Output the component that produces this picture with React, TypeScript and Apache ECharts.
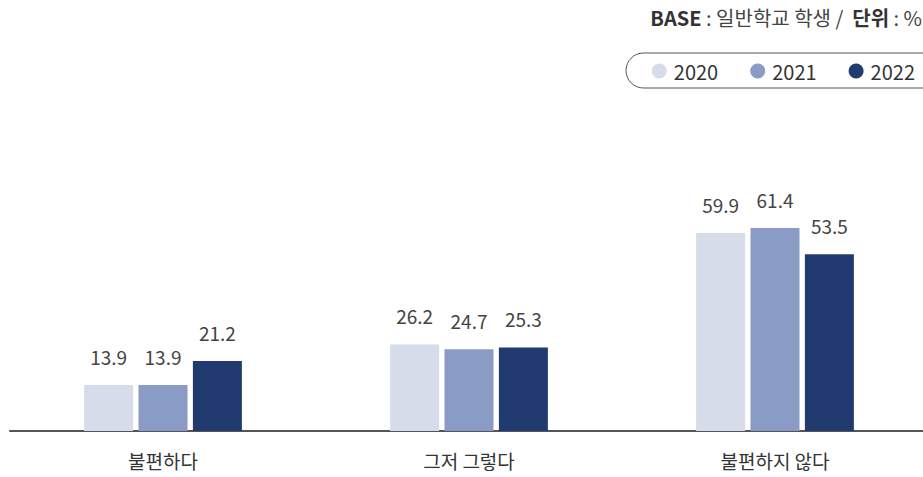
import React, { useEffect, useRef } from "react";
import * as echarts from "echarts";

const categories = ["불편하다", "그저 그렇다", "불편하지 않다"];
const seriesNames = ["2020", "2021", "2022"];
const values2020 = [13.9, 26.2, 59.9];
const values2021 = [13.9, 24.7, 61.4];
const values2022 = [21.2, 25.3, 53.5];
const colors = ["#d6dcea", "#8a9cc5", "#213b71"];

const FONT = "'Noto Sans CJK KR', 'Noto Sans', sans-serif";

export default function App() {
  const ref = useRef<HTMLDivElement>(null);
  useEffect(() => {
    if (!ref.current) return;
    const chart = echarts.init(ref.current, undefined, { renderer: "svg" });
    const data = [values2020, values2021, values2022];
    chart.setOption({
      animation: false,
      textStyle: { fontFamily: FONT },
      grid: {
        left: 10,
        width: 918,
        top: 100.5,
        bottom: 46,
        containLabel: false,
        outerBoundsMode: "none",
      },
      graphic: [
        {
          type: "text",
          right: 1,
          top: 7,
          style: {
            text: "{b|BASE} : 일반학교 학생 /  {b|단위} : %",
            fontFamily: FONT,
            fontSize: 20,
            fill: "#444",
            rich: {
              b: { fontWeight: "bold", fontSize: 20, fontFamily: FONT, fill: "#333" },
            },
          },
        },
        {
          type: "rect",
          shape: { x: 626, y: 53, width: 320, height: 35, r: 17.5 },
          style: { fill: "none", stroke: "#555", lineWidth: 1 },
        },
      ],
      legend: {
        right: 3,
        top: 56,
        icon: "circle",
        itemWidth: 15,
        itemHeight: 15,
        itemGap: 32,
        textStyle: { fontSize: 20, color: "#333", fontFamily: FONT, padding: [0, 0, 0, 2] },
        data: seriesNames,
      },
      xAxis: {
        type: "category",
        data: categories,
        axisLine: { lineStyle: { color: "#555", width: 2 } },
        axisTick: { show: false },
        axisLabel: { fontSize: 19, color: "#333", margin: 20, fontFamily: FONT },
      },
      yAxis: {
        type: "value",
        min: 0,
        max: 100,
        show: false,
        splitLine: { show: false },
      },
      series: seriesNames.map((name, i) => ({
        name,
        type: "bar",
        data: data[i],
        barWidth: 49,
        barGap: "11%",
        itemStyle: { color: colors[i] },
        label: {
          show: true,
          position: "top",
          distance: 19,
          fontSize: 19,
          color: "#444",
          fontFamily: FONT,
          formatter: (p: any) => p.value.toFixed(1),
        },
      })),
    });
    return () => chart.dispose();
  }, []);
  return <div ref={ref} style={{ width: 923, height: 477, position: "absolute", left: 0, top: 0 }} />;
}
